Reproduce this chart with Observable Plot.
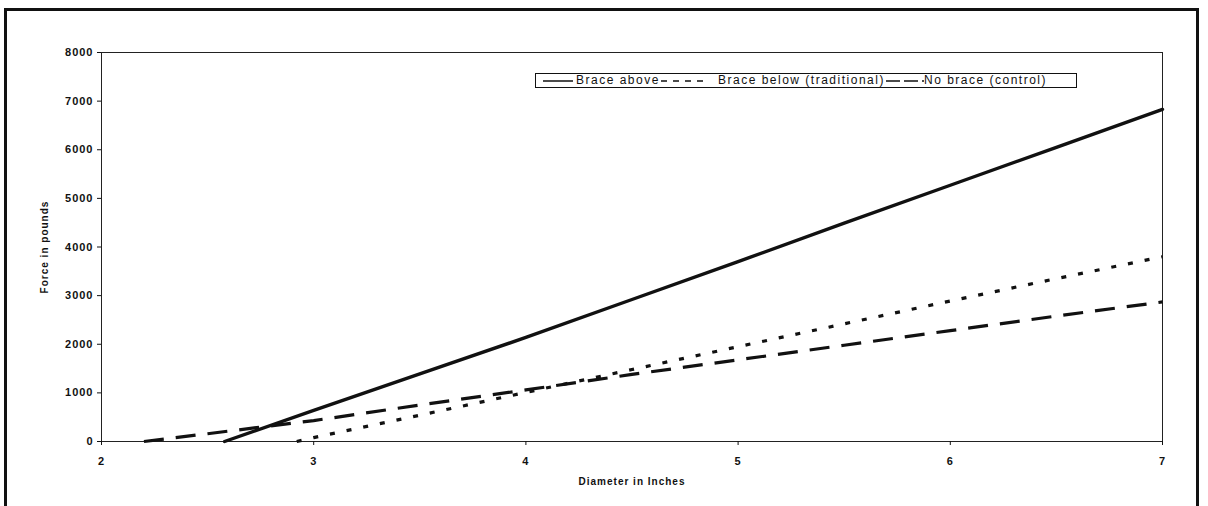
<!DOCTYPE html>
<html>
<head>
<meta charset="utf-8">
<script src="https://cdn.jsdelivr.net/npm/d3@7"></script>
<script src="https://cdn.jsdelivr.net/npm/@observablehq/plot@0.6"></script>
<style>
  html, body { margin: 0; padding: 0; background: #fff; }
  #wrap { position: relative; width: 1208px; height: 506px; overflow: hidden; font-family: "Liberation Sans", Arial, sans-serif; }
  #outer { position: absolute; left: 4px; top: 8px; width: 1195px; height: 520px; border: 3px solid #111; box-sizing: border-box; pointer-events: none; }
  #legend { position: absolute; left: 535px; top: 73px; width: 542px; height: 15px; border: 1px solid #111; box-sizing: border-box; background: #fff; }
  #legend .txt { position: absolute; top: 0px; font-size: 12px; line-height: 13px; letter-spacing: 1.5px; color: #111; white-space: nowrap; }
  #legend svg { position: absolute; top: 0; }
  svg.plot text { letter-spacing: 1px; }
</style>
</head>
<body>
<div id="wrap">
  <div id="chart"></div>
  <div id="outer"></div>
  <div id="legend"></div>
</div>
<script>
// Series names (legend order)
const seriesNames = ["Brace above", "Brace below (traditional)", "No brace (control)"];

// Brace above (solid)
const braceAboveDiam  = [2.58, 3, 3.5, 4, 4.5, 5, 5.5, 6, 6.5, 7];
const braceAboveForce = [0, 640, 1390, 2140, 2920, 3700, 4490, 5270, 6050, 6830];

// Brace below (traditional) (dotted)
const braceBelowDiam  = [2.92, 3, 3.5, 4, 4.5, 5, 5.5, 6, 6.5, 7];
const braceBelowForce = [0, 80, 540, 1010, 1480, 1950, 2420, 2890, 3350, 3800];

// No brace (control) (long dash)
const noBraceDiam  = [2.2, 2.5, 3, 3.5, 4, 4.5, 5, 5.5, 6, 6.5, 7];
const noBraceForce = [0, 160, 430, 750, 1060, 1380, 1680, 1980, 2280, 2580, 2870];

const xTicks = [2, 3, 4, 5, 6, 7];
const yTicks = [0, 1000, 2000, 3000, 4000, 5000, 6000, 7000, 8000];

const toRows = (name, xs, ys) => xs.map((d, i) => ({series: name, diam: d, force: ys[i]}));
const rowsAbove = toRows(seriesNames[0], braceAboveDiam, braceAboveForce);
const rowsBelow = toRows(seriesNames[1], braceBelowDiam, braceBelowForce);
const rowsNone  = toRows(seriesNames[2], noBraceDiam, noBraceForce);

const chart = Plot.plot({
  width: 1208,
  height: 506,
  marginLeft: 101,
  marginRight: 46,
  marginTop: 52,
  marginBottom: 65,
  style: {fontFamily: "'Liberation Sans', Arial, sans-serif", fontSize: "11px", color: "#111", background: "#fff"},
  x: {domain: [2, 7]},
  y: {domain: [0, 8000]},
  marks: [
    Plot.frame({stroke: "#222", strokeWidth: 1}),
    Plot.axisX({ticks: xTicks, tickFormat: d => String(d), tickSize: 4, tickPadding: 12,
      label: "Diameter in Inches", labelAnchor: "center", labelOffset: 43, labelArrow: "none",
      fontSize: 11}),
    Plot.axisY({ticks: yTicks, tickFormat: d => String(d), tickSize: 4, tickPadding: 4,
      label: "Force in pounds", labelAnchor: "center", labelOffset: 61, labelArrow: "none",
      fontSize: 11}),
    Plot.line(rowsNone, {x: "diam", y: "force", stroke: "#111", strokeWidth: 3.2, strokeDasharray: "20,12", strokeLinecap: "butt"}),
    Plot.line(rowsBelow, {x: "diam", y: "force", stroke: "#111", strokeWidth: 3.2, strokeDasharray: "5,12", strokeLinecap: "butt"}),
    Plot.line(rowsAbove, {x: "diam", y: "force", stroke: "#111", strokeWidth: 3.4})
  ]
});
chart.classList.add("plot");
document.getElementById("chart").appendChild(chart);

// tick labels slightly heavier, axis labels bold
chart.querySelectorAll("g[aria-label='x-axis tick label'] text, g[aria-label='y-axis tick label'] text").forEach(t => {
  t.setAttribute("font-weight", "bold");
});
chart.querySelectorAll("g[aria-label='x-axis label'] text, g[aria-label='y-axis label'] text").forEach(t => {
  t.setAttribute("font-weight", "bold");
  t.setAttribute("font-size", "10");
});

// Legend
const legend = document.getElementById("legend");
const items = [
  {name: seriesNames[0], sx: 7,   sw: 30, dash: null,  tx: 40},
  {name: seriesNames[1], sx: 125, sw: 47, dash: "6,6", tx: 182},
  {name: seriesNames[2], sx: 350, sw: 38, dash: "14,4", tx: 388}
];
for (const it of items) {
  const s = document.createElementNS("http://www.w3.org/2000/svg", "svg");
  s.setAttribute("width", it.sw); s.setAttribute("height", 13);
  s.style.left = it.sx + "px";
  const ln = document.createElementNS("http://www.w3.org/2000/svg", "line");
  ln.setAttribute("x1", 0); ln.setAttribute("x2", it.sw);
  ln.setAttribute("y1", 7); ln.setAttribute("y2", 7);
  ln.setAttribute("stroke", "#111"); ln.setAttribute("stroke-width", 1.5);
  if (it.dash) ln.setAttribute("stroke-dasharray", it.dash);
  s.appendChild(ln);
  legend.appendChild(s);
  const t = document.createElement("div");
  t.className = "txt"; t.textContent = it.name; t.style.left = it.tx + "px";
  legend.appendChild(t);
}
</script>
</body>
</html>
